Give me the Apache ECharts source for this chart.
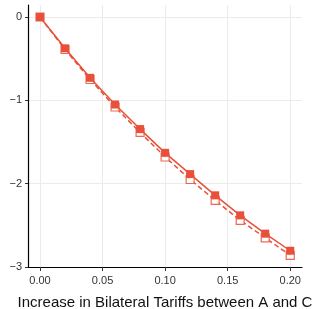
<!DOCTYPE html>
<html>
<head>
<meta charset="utf-8">
<script src="https://cdn.jsdelivr.net/npm/echarts@6/dist/echarts.min.js"></script>
<style>
  html, body { margin: 0; padding: 0; background: #fff; }
  #main { width: 314px; height: 309px; }
</style>
</head>
<body>
<div id="main"></div>
<script>
var tariffs = [0, 0.02, 0.04, 0.06, 0.08, 0.10, 0.12, 0.14, 0.16, 0.18, 0.20];
var solidVals = [0, -0.376, -0.73, -1.05, -1.345, -1.63, -1.885, -2.14, -2.38, -2.6, -2.805];
var dashedVals = [0, -0.39, -0.75, -1.08, -1.385, -1.68, -1.95, -2.2, -2.44, -2.65, -2.86];
var xTicks = [0, 0.05, 0.10, 0.15, 0.20];
var yTicks = [-3, -2, -1, 0];
var xTitle = 'Increase in Bilateral Tariffs between A and C';

var red = '#e8503a';

function pairs(xs, ys) {
  var out = [];
  for (var i = 0; i < xs.length; i++) out.push([xs[i], ys[i]]);
  return out;
}

// grid lines only at the labelled ticks
var gridLines = [];
xTicks.forEach(function (v) { gridLines.push({ xAxis: v }); });
yTicks.forEach(function (v) { if (v > -3) gridLines.push({ yAxis: v }); });

var myChart = echarts.init(document.getElementById('main'));
var option = {
  animation: false,
  grid: { left: 28, right: 12, top: 5, bottom: 42, outerBoundsMode: 'none' },
  xAxis: {
    type: 'value',
    min: -0.0096,
    max: 0.2094,
    name: xTitle,
    nameLocation: 'middle',
    nameGap: 28,
    nameTextStyle: { fontFamily: 'Liberation Sans', fontSize: 15, color: '#111' },
    axisLine: { show: true, onZero: false, lineStyle: { color: '#000', width: 1.2 } },
    axisTick: { show: true, length: 4, customValues: xTicks, lineStyle: { color: '#333' } },
    axisLabel: {
      customValues: xTicks,
      fontFamily: 'Liberation Sans', fontSize: 11, color: '#333', margin: 8,
      formatter: function (v) { return v.toFixed(2); }
    },
    splitLine: { show: false }
  },
  yAxis: {
    type: 'value',
    min: -3,
    max: 0.144,
    axisLine: { show: true, onZero: false, lineStyle: { color: '#000', width: 1.2 } },
    axisTick: { show: true, length: 3, customValues: yTicks, lineStyle: { color: '#333' } },
    axisLabel: {
      customValues: yTicks,
      fontFamily: 'Liberation Sans', fontSize: 11, color: '#333', margin: 6,
      formatter: function (v) { return String(v).replace('-', '\u2212'); }
    },
    splitLine: { show: false }
  },
  series: [
    {
      type: 'line',
      data: [],
      z: 0,
      markLine: {
        silent: true,
        z: 0,
        symbol: 'none',
        label: { show: false },
        lineStyle: { color: '#ebebeb', width: 1, type: 'solid' },
        data: gridLines
      }
    },
    {
      type: 'line',
      data: pairs(tariffs, dashedVals),
      symbol: 'rect',
      symbolSize: 8,
      itemStyle: { color: '#fff', borderColor: red, borderWidth: 1.2, opacity: 0.85 },
      lineStyle: { color: red, width: 1.5, type: [5, 3] },
      z: 2
    },
    {
      type: 'line',
      data: pairs(tariffs, solidVals),
      symbol: 'rect',
      symbolSize: 8,
      itemStyle: { color: red, borderWidth: 0 },
      lineStyle: { color: red, width: 1.5 },
      z: 3
    }
  ]
};
myChart.setOption(option);
</script>
</body>
</html>
